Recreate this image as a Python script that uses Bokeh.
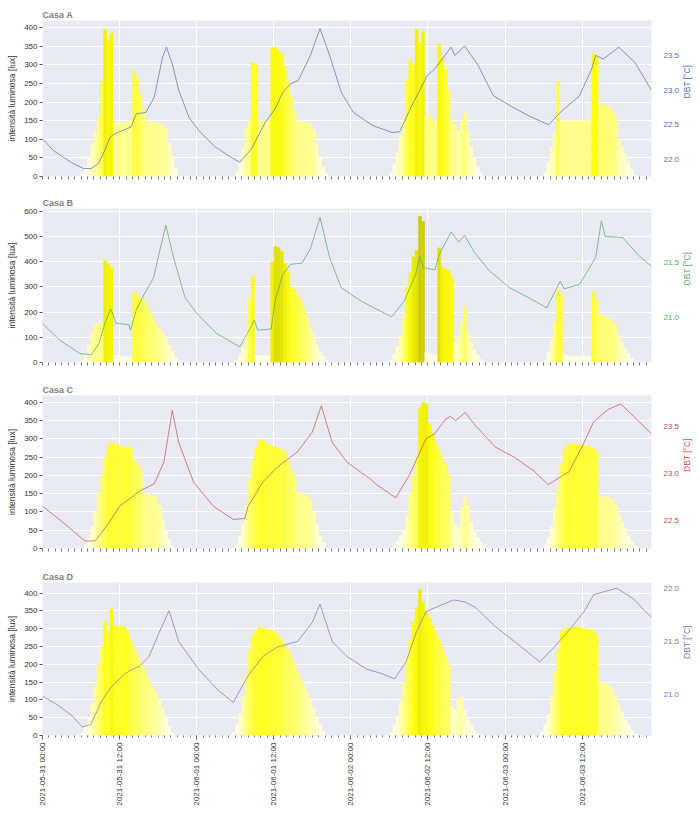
import numpy as np
import pandas as pd
from bokeh.plotting import figure
from bokeh.models import (Range1d, LinearAxis, FixedTicker, DatetimeTickFormatter,
                          LinearColorMapper, ColumnDataSource, NumeralTickFormatter)
from bokeh.layouts import column
from bokeh.embed import file_html
from bokeh.resources import INLINE

# ---------------- data ----------------
START = "2021-05-31 00:00"
END_HOURS = 94.8
TICK_LABEL_TIMES = ["2021-05-31 00:00", "2021-05-31 12:00", "2021-06-01 00:00", "2021-06-01 12:00",
                    "2021-06-02 00:00", "2021-06-02 12:00", "2021-06-03 00:00", "2021-06-03 12:00"]

# illuminance [lux], 30-minute values, one list per day, with the time of the first value (hours after start)
a_lux_starts = [5.5, 29.5, 53.5, 77.5]
a_lux_d1 = [0, 8, 25, 50, 85, 120, 160, 255, 395, 365, 385, 145, 140, 142, 145, 148, 150, 285, 265, 220,
            180, 150, 148, 145, 143, 140, 138, 130, 90, 55, 20, 0]
a_lux_d2 = [0, 10, 40, 75, 130, 150, 305, 300, 148, 150, 150, 152, 345, 348, 340, 330, 295, 255, 215, 180,
            150, 148, 146, 145, 140, 125, 85, 50, 25, 8, 0]
a_lux_d3 = [0, 10, 35, 65, 110, 150, 260, 315, 300, 395, 360, 390, 160, 165, 155, 150, 355, 320, 290, 230,
            150, 140, 120, 150, 170, 120, 80, 50, 25, 10, 0]
a_lux_d4 = [0, 10, 40, 80, 120, 255, 150, 148, 150, 150, 150, 150, 150, 150, 152, 150, 330, 320, 195, 192,
            190, 185, 175, 160, 100, 80, 60, 40, 20, 5, 0]

b_lux_starts = [5.5, 29.5, 53.5, 77.5]
b_lux_d1 = [0, 10, 30, 70, 120, 150, 155, 160, 405, 390, 375, 30, 28, 25, 25, 24, 22, 280, 270, 255,
            250, 225, 205, 180, 155, 135, 115, 100, 70, 45, 20, 5, 0]
b_lux_d2 = [0, 10, 30, 60, 120, 250, 340, 30, 30, 28, 27, 28, 400, 460, 455, 440, 395, 360, 300, 290,
            270, 245, 215, 180, 140, 110, 70, 45, 25, 10, 0]
b_lux_d3 = [0, 10, 35, 65, 110, 180, 300, 355, 420, 445, 580, 560, 40, 38, 35, 30, 455, 380, 370, 365,
            340, 80, 100, 160, 220, 120, 80, 50, 30, 12, 0]
b_lux_d4 = [0, 10, 40, 90, 160, 285, 270, 30, 28, 25, 25, 27, 25, 25, 24, 25, 280, 250, 190, 185,
            180, 175, 165, 150, 110, 80, 55, 35, 18, 5, 0]

c_lux_starts = [6.0, 29.5, 54.0, 77.5]
c_lux_d1 = [0, 10, 30, 60, 100, 150, 200, 250, 280, 290, 285, 285, 280, 275, 280, 275, 245, 235, 220, 150,
            150, 148, 145, 140, 120, 80, 50, 25, 8, 0]
c_lux_d2 = [0, 10, 35, 70, 120, 190, 240, 275, 295, 298, 290, 285, 280, 278, 275, 272, 265, 240, 215, 200,
            155, 150, 148, 145, 135, 100, 65, 35, 15, 0]
c_lux_d3 = [0, 8, 20, 35, 50, 90, 150, 200, 250, 385, 400, 395, 340, 315, 290, 270, 250, 230, 205, 100,
            70, 60, 110, 140, 120, 70, 45, 30, 18, 8, 0]
c_lux_d4 = [0, 10, 30, 60, 110, 170, 230, 270, 285, 285, 288, 285, 285, 283, 280, 280, 275, 265, 145, 143,
            140, 140, 135, 120, 95, 75, 55, 35, 20, 8, 0]

d_lux_starts = [5.5, 29.0, 53.5, 77.0]
d_lux_d1 = [0, 8, 25, 50, 90, 140, 200, 250, 320, 290, 355, 310, 305, 308, 305, 295, 270, 250, 230, 210,
            190, 170, 150, 135, 120, 100, 75, 50, 25, 8, 0]
d_lux_d2 = [0, 10, 30, 60, 110, 170, 240, 280, 295, 305, 300, 300, 298, 295, 290, 280, 270, 255, 240, 220,
            200, 180, 160, 140, 120, 100, 75, 50, 30, 12, 0]
d_lux_d3 = [0, 10, 30, 55, 95, 150, 220, 270, 320, 360, 410, 375, 350, 330, 310, 290, 270, 250, 225, 200,
            80, 70, 105, 110, 70, 45, 28, 15, 5, 0]
d_lux_d4 = [0, 10, 30, 60, 110, 180, 240, 290, 300, 302, 303, 305, 305, 303, 300, 300, 298, 295, 285, 150,
            148, 145, 140, 130, 110, 85, 65, 45, 30, 15, 5, 0]

# dry bulb temperature [°C]: hours after start, value
a_temp_h = [0, 1.7, 3.3, 4.8, 6.4, 7.6, 8.7, 9.7, 10.5, 11.2, 12.5, 13.8, 14.6, 16.1, 17.4, 18.7, 19.3, 20.2,
            21.2, 22.8, 24.3, 26.9, 29.4, 30.7, 32.5, 34.7, 36.2, 37.4, 38.6, 39.8, 41.7, 43.2, 44.7, 46.5,
            48.4, 51.4, 54.4, 55.6, 57.5, 59.9, 61.1, 63.6, 64.2, 65.7, 67.8, 70.2, 72.7, 75.7, 78.8, 80.6,
            83.6, 85.5, 86.1, 87.3, 89.7, 92.2, 94.8]
a_temp = [22.30, 22.13, 22.03, 21.94, 21.87, 21.87, 21.94, 22.13, 22.32, 22.37, 22.42, 22.47, 22.66, 22.68,
          22.90, 23.48, 23.62, 23.38, 23.00, 22.61, 22.42, 22.18, 22.03, 21.96, 22.15, 22.54, 22.73, 22.97,
          23.09, 23.14, 23.50, 23.89, 23.50, 22.97, 22.68, 22.49, 22.39, 22.40, 22.78, 23.21, 23.31, 23.62,
          23.50, 23.64, 23.36, 22.92, 22.78, 22.63, 22.50, 22.68, 22.92, 23.31, 23.50, 23.45, 23.62, 23.40,
          23.00]

b_temp_h = [0, 2.7, 5.8, 7.6, 8.8, 9.7, 10.6, 11.5, 13.4, 13.7, 14.6, 15.8, 17.3, 18.2, 19.2, 20.4, 22.2,
            24.0, 27.1, 30.7, 31.9, 33.0, 33.5, 35.6, 36.2, 37.4, 38.6, 40.4, 41.7, 43.2, 44.7, 46.5, 49.6,
            52.6, 54.4, 56.3, 58.1, 58.7, 59.3, 61.1, 61.7, 63.6, 64.8, 65.7, 67.2, 69.6, 72.7, 75.7, 78.5,
            80.6, 81.2, 83.6, 86.1, 87.0, 87.6, 90.3, 92.8, 94.8]
b_temp = [20.95, 20.80, 20.68, 20.67, 20.77, 20.95, 21.08, 20.95, 20.94, 20.89, 21.07, 21.21, 21.36, 21.59,
          21.83, 21.54, 21.18, 21.04, 20.86, 20.74, 20.86, 20.98, 20.89, 20.90, 21.15, 21.39, 21.48, 21.49,
          21.62, 21.90, 21.54, 21.27, 21.15, 21.06, 21.01, 21.15, 21.39, 21.55, 21.45, 21.43, 21.56, 21.77,
          21.68, 21.74, 21.59, 21.42, 21.27, 21.18, 21.09, 21.33, 21.26, 21.30, 21.54, 21.87, 21.73, 21.72,
          21.56, 21.46]

c_temp_h = [0, 2.8, 6.6, 8.2, 10.5, 12.0, 15.1, 17.4, 18.9, 20.2, 21.2, 23.5, 26.6, 29.7, 31.5, 32.0, 34.3,
            36.6, 39.7, 42.0, 43.4, 45.1, 47.4, 51.2, 52.0, 55.0, 57.1, 59.7, 61.0, 62.8, 63.5, 64.3, 65.8,
            67.4, 70.5, 73.5, 76.6, 78.7, 82.0, 84.3, 85.8, 88.0, 90.0, 92.0, 94.8]
c_temp = [22.65, 22.50, 22.28, 22.28, 22.49, 22.65, 22.81, 22.89, 23.12, 23.67, 23.33, 22.91, 22.65, 22.51,
          22.52, 22.65, 22.91, 23.07, 23.23, 23.44, 23.72, 23.33, 23.12, 22.93, 22.88, 22.74, 22.98, 23.37,
          23.42, 23.58, 23.61, 23.56, 23.65, 23.51, 23.28, 23.17, 23.02, 22.88, 23.02, 23.33, 23.55, 23.68,
          23.74, 23.61, 23.42]

d_temp_h = [0, 2.5, 4.5, 6.2, 7.5, 9.2, 10.5, 12.8, 15.1, 16.6, 18.2, 19.7, 21.2, 24.3, 27.4, 29.7, 32.0,
            34.3, 36.6, 39.7, 42.0, 43.2, 45.1, 47.4, 50.5, 52.8, 54.8, 56.6, 58.2, 59.7, 62.0, 64.0, 65.8,
            67.4, 70.5, 73.5, 77.4, 79.7, 82.0, 84.3, 85.8, 89.4, 92.0, 93.7, 94.8]
d_temp = [20.99, 20.90, 20.81, 20.70, 20.72, 20.94, 21.06, 21.20, 21.27, 21.36, 21.59, 21.79, 21.50, 21.24,
          21.04, 20.93, 21.18, 21.36, 21.45, 21.50, 21.68, 21.85, 21.50, 21.36, 21.24, 21.20, 21.15, 21.31,
          21.59, 21.78, 21.84, 21.89, 21.87, 21.82, 21.64, 21.50, 21.31, 21.45, 21.61, 21.78, 21.94, 22.00,
          21.90, 21.79, 21.73]

titles = ["Casa A", "Casa B", "Casa C", "Casa D"]
line_colors = ["#4c72b0", "#55a868", "#c44e52", "#8172b2"]
lux_ticks = [[0, 50, 100, 150, 200, 250, 300, 350, 400],
             [0, 100, 200, 300, 400, 500, 600],
             [0, 50, 100, 150, 200, 250, 300, 350, 400],
             [0, 50, 100, 150, 200, 250, 300, 350, 400]]
lux_max = [419, 611, 419, 430]
temp_ticks = [[22.0, 22.5, 23.0, 23.5], [21.0, 21.5], [22.5, 23.0, 23.5], [21.0, 21.5, 22.0]]
temp_lims = [(21.755, 24.005), (20.60, 21.98), (22.20, 23.83), (20.62, 22.053)]

# ---------------- helpers ----------------
t0 = pd.Timestamp(START)
SLOT = pd.Timedelta(minutes=30)


def lux_source(starts, days):
    xs, tops = [], []
    for s, vals in zip(starts, days):
        first = t0 + pd.Timedelta(minutes=int(round(s * 60)))
        for k, v in enumerate(vals):
            xs.append(first + k * SLOT + SLOT / 2)
            tops.append(v)
    return ColumnDataSource(dict(x=xs, top=tops))


def make_palette():
    anchors = [(0, "#fffff4"), (60, "#ffffcc"), (120, "#ffffa0"), (160, "#ffff80"),
               (250, "#ffff50"), (320, "#ffff14"), (390, "#f4f400"), (460, "#e0e000"),
               (600, "#c8c800")]
    pos = np.array([a[0] for a in anchors], float)
    rgb = np.array([[int(c[i:i + 2], 16) for i in (1, 3, 5)] for _, c in anchors], float)
    out = []
    for g in np.linspace(0, 600, 256):
        r, gg, b = (np.interp(g, pos, rgb[:, j]) for j in range(3))
        out.append("#%02x%02x%02x" % (int(round(r)), int(round(gg)), int(round(b))))
    return out


mapper = LinearColorMapper(palette=make_palette(), low=0, high=600)

major_ticks = [pd.Timestamp(t).value // 10**6 for t in TICK_LABEL_TIMES]
hour_ticks = [(t0 + pd.Timedelta(hours=h)).value // 10**6 for h in range(0, 96)]

FONT = "Liberation Sans"
fmt = "%Y-%m-%d %H:%M"
dt_formatter = DatetimeTickFormatter(microseconds=fmt, milliseconds=fmt, seconds=fmt, minsec=fmt,
                                     minutes=fmt, hourmin=fmt, hours=fmt, days=fmt, months=fmt,
                                     years=fmt, context=None)

lux_sets = [
    (a_lux_starts, [a_lux_d1, a_lux_d2, a_lux_d3, a_lux_d4]),
    (b_lux_starts, [b_lux_d1, b_lux_d2, b_lux_d3, b_lux_d4]),
    (c_lux_starts, [c_lux_d1, c_lux_d2, c_lux_d3, c_lux_d4]),
    (d_lux_starts, [d_lux_d1, d_lux_d2, d_lux_d3, d_lux_d4]),
]
temp_sets = [(a_temp_h, a_temp), (b_temp_h, b_temp), (c_temp_h, c_temp), (d_temp_h, d_temp)]

heights = [194, 187, 187, 246]
tops_b = [20, 12, 12, 12]
bottoms_b = [18, 19, 20, 79]
figs = []
for i in range(4):
    last = i == 3
    p = figure(width=700, height=heights[i], x_axis_type="datetime", output_backend="svg",
               toolbar_location=None,
               x_range=Range1d(t0, t0 + pd.Timedelta(hours=END_HOURS)),
               y_range=Range1d(0, lux_max[i]),
               min_border_left=42, min_border_right=42, min_border_top=tops_b[i],
               min_border_bottom=bottoms_b[i])
    p.title.text = titles[i]
    p.title.text_font = FONT
    p.title.text_font_size = "9px"
    p.title.text_font_style = "bold"
    p.title.text_color = "#808080"
    p.title.align = "left"
    p.title.standoff = 2
    p.background_fill_color = "#eaeaf2"
    p.border_fill_color = "white"
    p.outline_line_color = None

    starts, days = lux_sets[i]
    src = lux_source(starts, days)
    p.vbar(x="x", top="top", bottom=0, width=SLOT.total_seconds() * 1000, source=src,
           fill_color={"field": "top", "transform": mapper},
           line_color={"field": "top", "transform": mapper}, line_width=0.3)

    lo, hi = temp_lims[i]
    p.extra_y_ranges = {"t": Range1d(lo, hi)}
    th, tv = temp_sets[i]
    tt = [t0 + pd.Timedelta(minutes=int(round(h * 60))) for h in th]
    p.line(x=tt, y=tv, y_range_name="t", line_color=line_colors[i], line_width=0.7)

    # x axis
    xa = p.xaxis[0]
    xa.formatter = dt_formatter
    xa.axis_line_color = None
    xa.major_tick_line_color = "#555555"
    xa.minor_tick_line_color = "#777777"
    xa.major_tick_out = 4
    xa.major_tick_in = 0
    xa.minor_tick_out = 2
    xa.minor_tick_in = 0
    if last:
        xa.ticker = FixedTicker(ticks=major_ticks, minor_ticks=hour_ticks)
        xa.major_label_orientation = np.pi / 2
        xa.major_label_text_font = FONT
        xa.major_label_text_font_size = "8px"
        xa.major_label_text_color = "#333333"
        xa.major_label_standoff = 3
    else:
        # upper panels: tick marks only, no labels
        xa.ticker = FixedTicker(ticks=[], minor_ticks=hour_ticks)
        xa.minor_tick_out = 3
    p.xgrid.ticker = FixedTicker(ticks=major_ticks)

    # left axis
    ya = p.yaxis[0]
    ya.ticker = FixedTicker(ticks=lux_ticks[i])
    ya.axis_label = "intensità luminosa [lux]"
    ya.axis_label_text_font = FONT
    ya.axis_label_text_font_size = "8.5px"
    ya.axis_label_text_font_style = "normal"
    ya.axis_label_text_color = "#333333"
    ya.axis_label_standoff = 4
    ya.major_label_text_font = FONT
    ya.major_label_text_font_size = "8px"
    ya.major_label_text_color = "#333333"
    ya.major_label_standoff = 2
    ya.axis_line_color = None
    ya.major_tick_line_color = "#555555"
    ya.major_tick_out = 3
    ya.major_tick_in = 0
    ya.minor_tick_line_color = None

    # right axis
    ra = LinearAxis(y_range_name="t", ticker=FixedTicker(ticks=temp_ticks[i]),
                    formatter=NumeralTickFormatter(format="0.0"), axis_label="DBT [°C]")
    ra.axis_label_text_font = FONT
    ra.axis_label_text_font_size = "8.5px"
    ra.axis_label_text_font_style = "normal"
    ra.axis_label_text_color = line_colors[i]
    ra.axis_label_standoff = 5
    try:
        ra.axis_label_orientation = np.pi / 2
    except Exception:
        pass
    ra.major_label_text_font = FONT
    ra.major_label_text_font_size = "8px"
    ra.major_label_text_color = line_colors[i]
    ra.major_label_standoff = 6
    ra.axis_line_color = None
    ra.major_tick_line_color = None
    ra.minor_tick_line_color = None
    p.add_layout(ra, "right")

    p.xgrid.grid_line_color = "white"
    p.xgrid.grid_line_width = 1
    p.ygrid.grid_line_color = "white"
    p.ygrid.grid_line_width = 1
    figs.append(p)

layout = column(*figs, spacing=0)
open("out.html", "w").write(file_html(layout, INLINE))
